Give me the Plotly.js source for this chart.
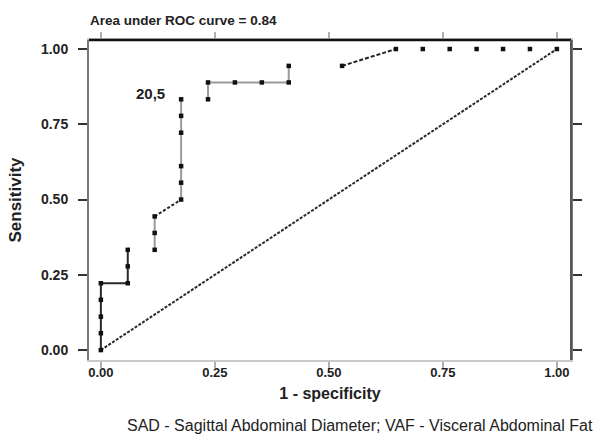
<!DOCTYPE html>
<html>
<head>
<meta charset="utf-8">
<script src="https://cdn.plot.ly/plotly-3.0.1.min.js"></script>
<style>
html,body{margin:0;padding:0;background:#fff;}
#chart{width:598px;height:434px;}
</style>
</head>
<body>
<div id="chart"></div>
<script>
// ROC points (1 - specificity, sensitivity)
var fpr = [0, 0, 0, 0, 0, 0.059, 0.059, 0.059, 0.118, 0.118, 0.118,
           0.176, 0.176, 0.176, 0.176, 0.176, 0.176,
           0.235, 0.235, 0.294, 0.353, 0.412, 0.412,
           0.529, 0.647, 0.706, 0.765, 0.824, 0.882, 0.941, 1.0];
var tpr = [0, 0.056, 0.111, 0.167, 0.222, 0.222, 0.278, 0.333, 0.333, 0.389, 0.444,
           0.5, 0.556, 0.611, 0.722, 0.778, 0.833,
           0.833, 0.889, 0.889, 0.889, 0.889, 0.944,
           0.944, 1.0, 1.0, 1.0, 1.0, 1.0, 1.0, 1.0];
var refLineX = [0, 1];
var refLineY = [0, 1];
var aucText = "Area under ROC curve = 0.84";
var cutoffLabel = "20,5";
var cutoffIndex = 16;
var tickVals = [0, 0.25, 0.5, 0.75, 1];
var tickText = ["0.00", "0.25", "0.50", "0.75", "1.00"];
var footnote = "SAD - Sagittal Abdominal Diameter; VAF - Visceral Abdominal Fat";

// visible line pieces in the picture: [startIndex, endIndex, color, dash]
var pieces = [
  [0, 7, "#2a2a2a", "solid"],
  [8, 10, "#9a9a9a", "solid"],
  [10, 11, "#222", "3px,2px"],
  [11, 16, "#9a9a9a", "solid"],
  [17, 22, "#9a9a9a", "solid"],
  [23, 24, "#222", "4px,2px"]
];

var traces = [];
traces.push({
  x: refLineX, y: refLineY, mode: "lines", type: "scatter",
  line: {color: "#2a2a2a", width: 2, dash: "3px,1.5px"}, hoverinfo: "skip", showlegend: false
});
pieces.forEach(function(p){
  traces.push({
    x: fpr.slice(p[0], p[1] + 1), y: tpr.slice(p[0], p[1] + 1),
    mode: "lines", type: "scatter",
    line: {color: p[2], width: 2, dash: p[3]}, showlegend: false
  });
});
traces.push({
  x: fpr, y: tpr, mode: "markers", type: "scatter",
  marker: {symbol: "square", size: 4.5, color: "#111"}, showlegend: false
});

var font = "Liberation Sans, Arial, sans-serif";
var layout = {
  width: 598, height: 434,
  margin: {l: 89, r: 27, t: 40, b: 74},
  paper_bgcolor: "#fff", plot_bgcolor: "#fff",
  showlegend: false,
  title: {text: aucText, x: 90/598, xanchor: "left", y: 1 - 20/434, yanchor: "middle",
          font: {family: font, size: 13.5, weight: "bold", color: "#222"}},
  xaxis: {
    range: [-0.026, 1.031], tickvals: tickVals, ticktext: tickText,
    showgrid: false, zeroline: false,
    showline: true, linecolor: "#c8c8c8", linewidth: 2, mirror: "ticks",
    ticks: "outside", ticklen: 6, tickwidth: 2, tickcolor: "#b0b0b0",
    tickfont: {family: font, size: 13, weight: "bold", color: "#222"},
    ticklabelstandoff: -7,
    title: {text: "1 - specificity", standoff: 9,
            font: {family: font, size: 16, weight: "bold", color: "#222"}},
    automargin: false
  },
  yaxis: {
    range: [-0.033, 1.03], tickvals: tickVals, ticktext: tickText,
    showgrid: false, zeroline: false,
    showline: true, linecolor: "#777", linewidth: 2, mirror: "ticks",
    ticks: "outside", ticklen: 9, tickwidth: 2, tickcolor: "#333",
    tickfont: {family: font, size: 14, weight: "bold", color: "#222"},
    ticklabelstandoff: 7,
    title: {text: "Sensitivity", standoff: 15,
            font: {family: font, size: 17, weight: "bold", color: "#222"}},
    automargin: false
  },
  shapes: [
    {type: "line", xref: "x domain", yref: "y domain", x0: 0, x1: 1, y0: 1, y1: 1,
     line: {color: "#111", width: 2.5}, layer: "above"},
    {type: "line", xref: "x domain", yref: "y domain", x0: 1, x1: 1, y0: 0, y1: 1,
     line: {color: "#555", width: 2}, layer: "above"}
  ],
  annotations: [
    {x: fpr[cutoffIndex], y: tpr[cutoffIndex], xref: "x", yref: "y", text: cutoffLabel,
     showarrow: false, xanchor: "right", yanchor: "middle", xshift: -14, yshift: 6,
     font: {family: font, size: 15, weight: "bold", color: "#222"}},
    {x: (595 - 89) / 482, y: (360 - 425) / 320, xref: "paper", yref: "paper", text: footnote,
     showarrow: false, xanchor: "right", yanchor: "middle",
     font: {family: font, size: 16, color: "#222"}}
  ]
};

Plotly.newPlot("chart", traces, layout, {staticPlot: true, displayModeBar: false});
</script>
</body>
</html>
